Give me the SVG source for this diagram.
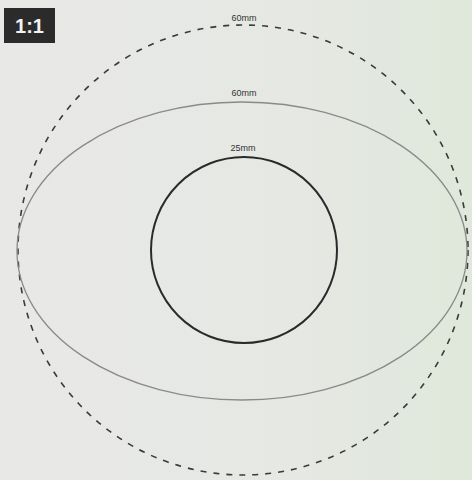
<svg xmlns="http://www.w3.org/2000/svg" width="472" height="480" viewBox="0 0 472 480">
<defs>
<linearGradient id="bg" x1="0" y1="0" x2="1" y2="0">
<stop offset="0" stop-color="#e8e9e7"/>
<stop offset="0.6" stop-color="#e6e8e4"/>
<stop offset="1" stop-color="#dfe8da"/>
</linearGradient>
<style>
.lbl{font-family:"Liberation Sans",Arial,sans-serif;font-size:9px;fill:#333;text-anchor:middle}
</style>
</defs>
<rect width="472" height="480" fill="url(#bg)"/>
<g id="badge">
<rect x="4" y="8" width="51" height="35" fill="#2b2b2b"/>
<text x="29.5" y="33" font-family="'Liberation Sans',Arial,sans-serif" font-size="20" font-weight="bold" fill="#f2f2f2" text-anchor="middle">1:1</text>
</g>
<g id="dashed-circle">
<circle cx="243" cy="250" r="225" fill="none" stroke="#3a3a3a" stroke-width="1.6" stroke-dasharray="6 7"/>
<text class="lbl" x="244" y="21">60mm</text>
</g>
<g id="ellipse">
<ellipse cx="242" cy="251" rx="225" ry="149" fill="none" stroke="#8a8a8a" stroke-width="1.3"/>
<text class="lbl" x="244" y="96">60mm</text>
</g>
<g id="inner-circle">
<circle cx="244" cy="250" r="93" fill="none" stroke="#2a2a2a" stroke-width="2"/>
<text class="lbl" x="243" y="151">25mm</text>
</g>
<g id="connectors"/>
</svg>
